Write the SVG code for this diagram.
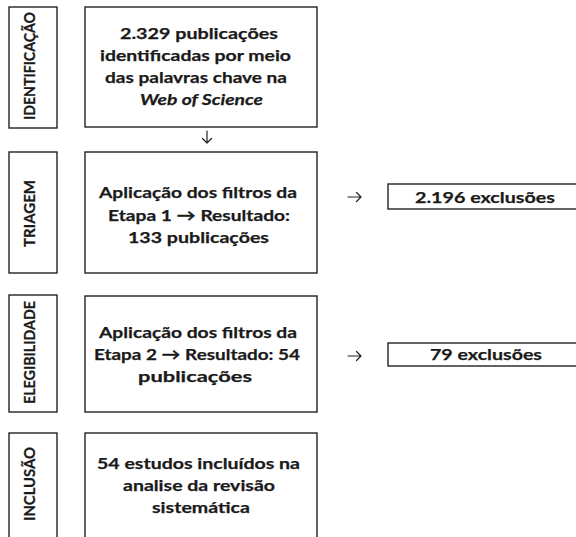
<svg xmlns="http://www.w3.org/2000/svg" width="576" height="537" viewBox="0 0 576 537">
<style>
.box{fill:#fff;stroke:#222;stroke-width:1.4}
.t{font-family:Lato,"Open Sans","Liberation Sans",sans-serif;font-weight:bold;font-size:16px;fill:#1a1a1a;stroke:#1a1a1a;stroke-width:0.25}
.lbl{font-family:Lato,"Open Sans","Liberation Sans",sans-serif;font-weight:bold;font-size:14.5px;fill:#1a1a1a;stroke:#1a1a1a;stroke-width:0.25;text-anchor:middle}
.conn{fill:none;stroke:#222;stroke-width:1.2;stroke-linecap:round;stroke-linejoin:round}
</style>
<rect width="576" height="537" fill="#fff"/>
<g id="label-identificacao">
<rect class="box" x="9" y="7" width="48" height="121"/>
<text class="lbl" transform="translate(35,66) rotate(-90)" textLength="108" lengthAdjust="spacingAndGlyphs">IDENTIFICAÇÃO</text>
</g>
<g id="node-identificacao">
<rect class="box" x="85" y="7" width="232" height="120"/>
<text class="t" x="120" y="39" textLength="158" lengthAdjust="spacingAndGlyphs">2.329 publicações</text>
<text class="t" x="100" y="61" textLength="191" lengthAdjust="spacingAndGlyphs">identificadas por meio</text>
<text class="t" x="105" y="83" textLength="182" lengthAdjust="spacingAndGlyphs">das palavras chave na</text>
<text class="t" x="140" y="105" textLength="123" lengthAdjust="spacingAndGlyphs" font-style="italic">Web of Science</text>
</g>
<g id="label-triagem">
<rect class="box" x="9" y="152" width="48" height="121"/>
<text class="lbl" transform="translate(35,213.5) rotate(-90)" textLength="67" lengthAdjust="spacingAndGlyphs">TRIAGEM</text>
</g>
<g id="node-triagem">
<rect class="box" x="85" y="152" width="232" height="121"/>
<text class="t" x="99" y="198" textLength="198" lengthAdjust="spacingAndGlyphs">Aplicação dos filtros da</text>
<text class="t" x="108" y="220.5" textLength="182" lengthAdjust="spacingAndGlyphs">Etapa 1 → Resultado:</text>
<text class="t" x="128" y="243" textLength="141" lengthAdjust="spacingAndGlyphs">133 publicações</text>
</g>
<g id="node-exclusoes-1">
<rect class="box" x="388" y="184" width="200" height="25"/>
<text class="t" x="415" y="203" textLength="140" lengthAdjust="spacingAndGlyphs">2.196 exclusões</text>
</g>
<g id="label-elegibilidade">
<rect class="box" x="9" y="295" width="48" height="117"/>
<text class="lbl" transform="translate(35,352.5) rotate(-90)" textLength="103" lengthAdjust="spacingAndGlyphs">ELEGIBILIDADE</text>
</g>
<g id="node-elegibilidade">
<rect class="box" x="85" y="296" width="232" height="116"/>
<text class="t" x="99" y="338" textLength="198" lengthAdjust="spacingAndGlyphs">Aplicação dos filtros da</text>
<text class="t" x="94" y="360" textLength="206" lengthAdjust="spacingAndGlyphs">Etapa 2 → Resultado: 54</text>
<text class="t" x="138" y="382" textLength="114" lengthAdjust="spacingAndGlyphs">publicações</text>
</g>
<g id="node-exclusoes-2">
<rect class="box" x="388" y="343" width="200" height="23"/>
<text class="t" x="430" y="360" textLength="112" lengthAdjust="spacingAndGlyphs">79 exclusões</text>
</g>
<g id="label-inclusao">
<rect class="box" x="9" y="433" width="48" height="112"/>
<text class="lbl" transform="translate(35,484) rotate(-90)" textLength="74" lengthAdjust="spacingAndGlyphs">INCLUSÃO</text>
</g>
<g id="node-inclusao">
<rect class="box" x="85" y="433" width="232" height="112"/>
<text class="t" x="97" y="469" textLength="203" lengthAdjust="spacingAndGlyphs">54 estudos incluídos na</text>
<text class="t" x="123" y="491" textLength="152" lengthAdjust="spacingAndGlyphs">analise da revisão</text>
<text class="t" x="152" y="513" textLength="98" lengthAdjust="spacingAndGlyphs">sistemática</text>
</g>
<g id="connectors">
<path class="conn" d="M207 131 V143 M202.5 138.5 L207 143 L211.5 138.5"/>
<path class="conn" d="M348 197 H361 M356.5 192.5 L361 197 L356.5 201.5"/>
<path class="conn" d="M348 356 H361 M356.5 351.5 L361 356 L356.5 360.5"/>
</g>
</svg>
